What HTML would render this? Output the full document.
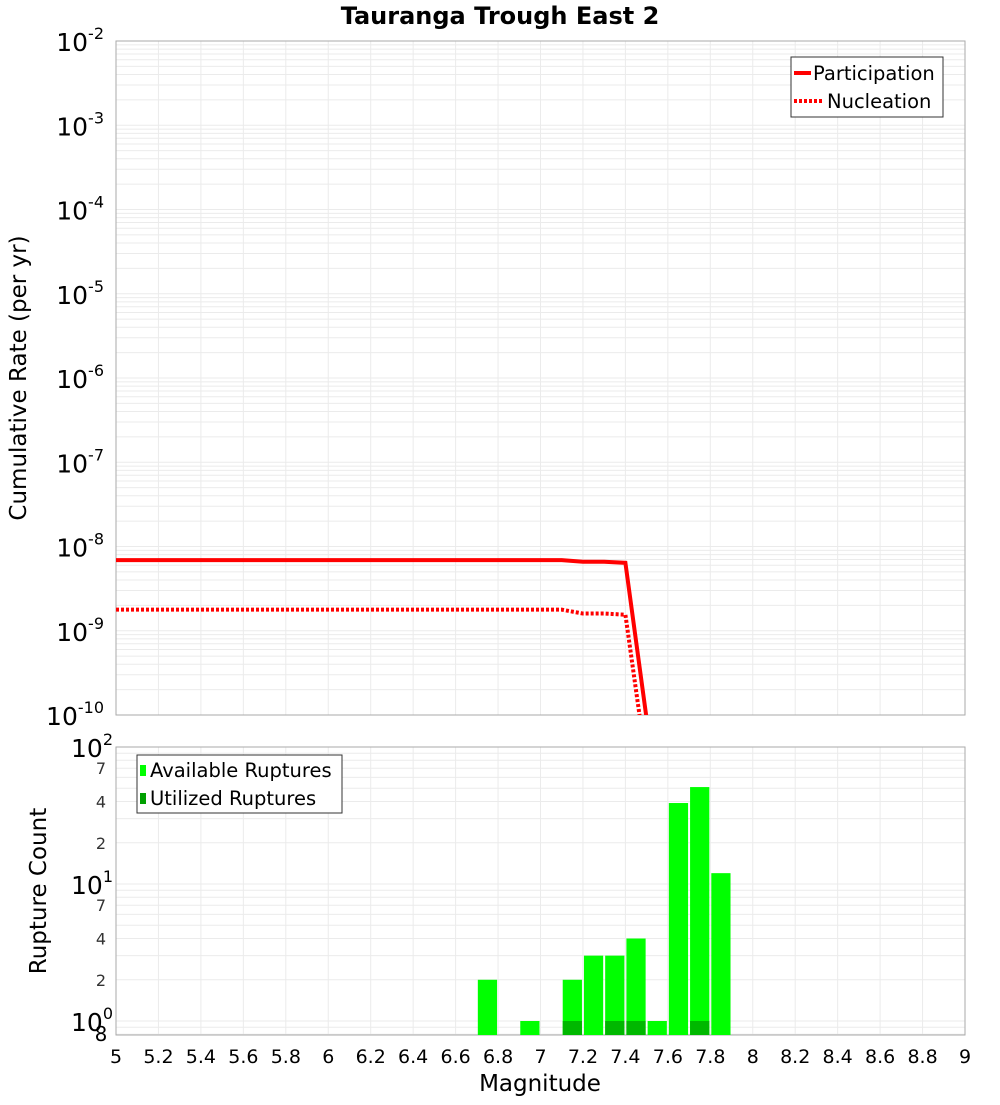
<!DOCTYPE html>
<html><head><meta charset="utf-8"><style>
body{margin:0;background:#fff}
svg{font-family:"DejaVu Sans","Liberation Sans",sans-serif}
</style></head><body>
<svg id="c" width="1000" height="1100" xmlns="http://www.w3.org/2000/svg"></svg>
<script>
const mags=[5.0,5.1,5.2,5.3,5.4,5.5,5.6,5.7,5.8,5.9,6.0,6.1,6.2,6.3,6.4,6.5,6.6,6.7,6.8,6.9,7.0,7.1,7.2,7.3,7.4,7.5];
const participation=[6.9e-9,6.9e-9,6.9e-9,6.9e-9,6.9e-9,6.9e-9,6.9e-9,6.9e-9,6.9e-9,6.9e-9,6.9e-9,6.9e-9,6.9e-9,6.9e-9,6.9e-9,6.9e-9,6.9e-9,6.9e-9,6.9e-9,6.9e-9,6.9e-9,6.9e-9,6.6e-9,6.6e-9,6.4e-9,9e-11];
const nucleation=[1.78e-9,1.78e-9,1.78e-9,1.78e-9,1.78e-9,1.78e-9,1.78e-9,1.78e-9,1.78e-9,1.78e-9,1.78e-9,1.78e-9,1.78e-9,1.78e-9,1.78e-9,1.78e-9,1.78e-9,1.78e-9,1.78e-9,1.78e-9,1.78e-9,1.78e-9,1.6e-9,1.6e-9,1.55e-9,2.5e-11];
const binStarts=[6.7,6.9,7.1,7.2,7.3,7.4,7.5,7.6,7.7,7.8];
const available=[2,1,2,3,3,4,1,39,51,12];
const utilized=[0,0,1,0,1,1,0,0,1,0];
const xTicks=[5,5.2,5.4,5.6,5.8,6,6.2,6.4,6.6,6.8,7,7.2,7.4,7.6,7.8,8,8.2,8.4,8.6,8.8,9];

const NS="http://www.w3.org/2000/svg",svg=document.getElementById('c');
function el(t,a,p){const e=document.createElementNS(NS,t);for(const k in a)e.setAttribute(k,a[k]);(p||svg).appendChild(e);return e;}
const L=116,R=965,T1=41,B1=715,T2=747,B2=1035;
const x=m=>L+(m-5)/4*(R-L);
const y1=v=>T1+(-2-Math.log10(v))*(B1-T1)/8;
const y2=v=>T2+(2-Math.log10(v))*137;
const defs=el('defs',{});
const cp=el('clipPath',{id:'cp1'},defs);el('rect',{x:L,y:T1,width:R-L,height:B1-T1},cp);
const cp2=el('clipPath',{id:'cp2'},defs);el('rect',{x:L,y:T2,width:R-L,height:B2-T2},cp2);
const g=el('g',{stroke:'#ebebeb','stroke-width':1});

for(let i=0;i<=40;i+=2){const xx=x(5+i*0.1);el('line',{x1:xx,x2:xx,y1:T1,y2:B1},g);el('line',{x1:xx,x2:xx,y1:T2,y2:B2},g);}
for(let d=-10;d<-2;d++)for(let k=1;k<10;k++){const yy=y1(k*Math.pow(10,d));el('line',{x1:L,x2:R,y1:yy,y2:yy},g);}
for(let d=-1;d<2;d++)for(let k=1;k<10;k++){const yy=y2(k*Math.pow(10,d));if(yy>T2&&yy<B2)el('line',{x1:L,x2:R,y1:yy,y2:yy},g);}
let f=el('rect',{x:L,y:T1,width:R-L,height:B1-T1,fill:'none',stroke:'#aaa'});

f=el('rect',{x:L,y:T2,width:R-L,height:B2-T2,fill:'none',stroke:'#aaa'});

function line(arr,dash,name){const p=el('polyline',{points:mags.map((m,i)=>x(m)+','+y1(arr[i])).join(' '),fill:'none',stroke:'#ff0000','stroke-width':4,'stroke-dasharray':dash,'clip-path':'url(#cp1)'});
}
line(participation,'none','participation-line');
line(nucleation,'3,2','nucleation-line');
binStarts.forEach((m,i)=>{const r=el('rect',{x:x(m)+1,width:x(m+0.1)-x(m)-2,y:y2(available[i]),height:B2-y2(available[i]),fill:'#00ff00','clip-path':'url(#cp2)'});

if(utilized[i]>0){const u=el('rect',{x:x(m)+1,width:x(m+0.1)-x(m)-2,y:y2(utilized[i]),height:B2-y2(utilized[i]),fill:'#00b800','clip-path':'url(#cp2)'});
}});
xTicks.forEach(t=>{const tx=el('text',{x:x(t),y:1063,'font-size':19,'text-anchor':'middle',fill:'#000'});tx.textContent=String(t);
});
for(let d=-2;d>=-10;d--){const yy=y1(Math.pow(10,d));const t=el('text',{x:104,y:yy+10,'font-size':25,'text-anchor':'end',fill:'#000'});
t.innerHTML='10<tspan dy="-12" font-size="16">'+d+'</tspan>';}
[[2,'2'],[1,'1'],[0,'0']].forEach(([d,s])=>{const yy=y2(Math.pow(10,d));const t=el('text',{x:71,y:yy+10,'font-size':25,fill:'#000'});
t.innerHTML='10<tspan dy="-12" font-size="16">'+s+'</tspan>';});
[2,4,7,20,40,70].forEach(v=>{const t=el('text',{x:106,y:y2(v)+6,'font-size':16,'text-anchor':'end',fill:'#333'});t.textContent=String(v).charAt(0);
});
let t8=el('text',{x:101,y:1041,'font-size':20,'text-anchor':'middle',fill:'#000'});t8.textContent='8';
let tt=el('text',{x:500,y:24,'font-size':24,'font-weight':'bold','text-anchor':'middle'});tt.textContent='Tauranga Trough East 2';
tt=el('text',{x:540,y:1091,'font-size':23,'text-anchor':'middle'});tt.textContent='Magnitude';
tt=el('text',{x:0,y:0,'font-size':23,'text-anchor':'middle',transform:'translate(26,378) rotate(-90)'});tt.textContent='Cumulative Rate (per yr)';
tt=el('text',{x:0,y:0,'font-size':23,'text-anchor':'middle',transform:'translate(46,891) rotate(-90)'});tt.textContent='Rupture Count';
let lg=el('g',{});
el('rect',{x:791,y:57,width:152,height:60,fill:'#fff',stroke:'#333'},lg);
el('line',{x1:794,x2:811,y1:73,y2:73,stroke:'#f00','stroke-width':4},lg);
el('line',{x1:794,x2:823,y1:101,y2:101,stroke:'#f00','stroke-width':4,'stroke-dasharray':'3,2'},lg);
let a=el('text',{x:813,y:80,'font-size':19.5},lg);a.textContent='Participation';
a=el('text',{x:827,y:108,'font-size':19.5},lg);a.textContent='Nucleation';
lg=el('g',{});
el('rect',{x:137,y:755,width:205,height:58,fill:'#fff',stroke:'#333'},lg);
el('rect',{x:140,y:765,width:6,height:11,fill:'#00ff00'},lg);
el('rect',{x:140,y:793,width:6,height:11,fill:'#00a000'},lg);
a=el('text',{x:150,y:777,'font-size':19.5},lg);a.textContent='Available Ruptures';
a=el('text',{x:150,y:805,'font-size':19.5},lg);a.textContent='Utilized Ruptures';
</script>
</body></html>
